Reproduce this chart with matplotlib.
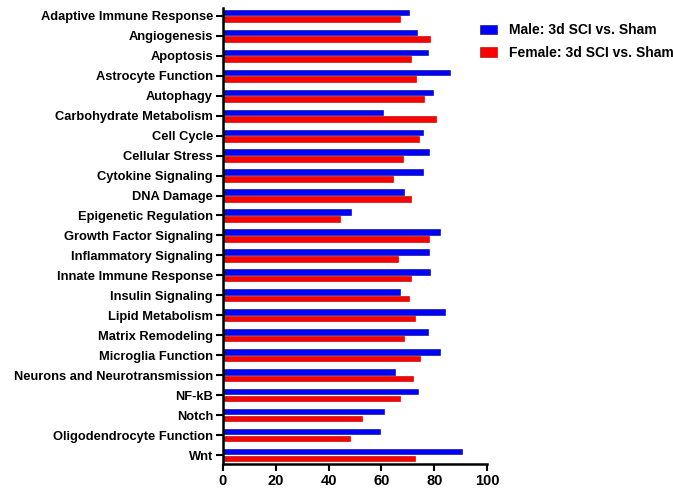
import matplotlib.pyplot as plt
import numpy as np
from matplotlib.patches import Patch

# -------------------------------
# Data
# -------------------------------
pathways = [
    "Adaptive Immune Response", "Angiogenesis", "Apoptosis", "Astrocyte Function",
    "Autophagy", "Carbohydrate Metabolism", "Cell Cycle", "Cellular Stress",
    "Cytokine Signaling", "DNA Damage", "Epigenetic Regulation",
    "Growth Factor Signaling", "Inflammatory Signaling", "Innate Immune Response",
    "Insulin Signaling", "Lipid Metabolism", "Matrix Remodeling",
    "Microglia Function", "Neurons and Neurotransmission", "NF-kB", "Notch",
    "Oligodendrocyte Function", "Wnt",
]
male = [70.3, 73.4, 77.7, 85.8, 79.3, 60.4, 75.7, 78.0, 75.7, 68.6, 48.6,
        82.0, 78.1, 78.5, 67.1, 83.9, 77.7, 82.3, 65.2, 73.8, 61.1, 59.6, 90.3]
female = [67.1, 78.4, 71.0, 73.0, 76.1, 80.5, 74.2, 68.1, 64.3, 71.0, 44.3,
          78.1, 66.3, 71.0, 70.3, 72.5, 68.6, 74.6, 71.8, 67.1, 52.5, 48.2, 72.5]
x_ticks = [0, 20, 40, 60, 80, 100]

labels = ["Male: 3d SCI vs. Sham", "Female: 3d SCI vs. Sham"]

plt.rcParams['font.family'] = ['Liberation Sans', 'DejaVu Sans']
plt.rcParams['font.weight'] = 'bold'

fig = plt.figure(figsize=(6.73, 4.88), dpi=100)
ax = fig.add_axes([0.331, 0.049, 0.393, 0.935])

y = np.arange(len(pathways))
h = 0.27
ax.barh(y - 0.17, male, height=h, color="#0000ff", edgecolor="#000066", linewidth=0.4)
ax.barh(y + 0.17, female, height=h, color="#ff0000", edgecolor="#990000", linewidth=0.4)

ax.set_xlim(0, 100)
ax.set_ylim(len(pathways) - 0.55, -0.4)
ax.set_yticks(y)
ax.set_yticklabels(pathways, fontsize=9.3, fontweight='bold')
ax.set_xticks(x_ticks)
ax.set_xticklabels([str(t) for t in x_ticks], fontsize=10.5, fontweight='bold')

for side in ["top", "right"]:
    ax.spines[side].set_visible(False)
for side in ["left", "bottom"]:
    ax.spines[side].set_linewidth(1.8)
ax.tick_params(axis='both', length=5, width=1.5, pad=2)

handles = [Patch(facecolor="#0000ff", edgecolor="#000066", linewidth=0.4),
           Patch(facecolor="#ff0000", edgecolor="#990000", linewidth=0.4)]
fig.legend(handles, labels, loc="upper left", bbox_to_anchor=(0.695, 0.978),
           frameon=False, prop={'weight': 'bold', 'size': 10},
           handlelength=1.2, handleheight=0.7, labelspacing=0.6, handletextpad=0.9)

fig.savefig("out.png", dpi=100)
